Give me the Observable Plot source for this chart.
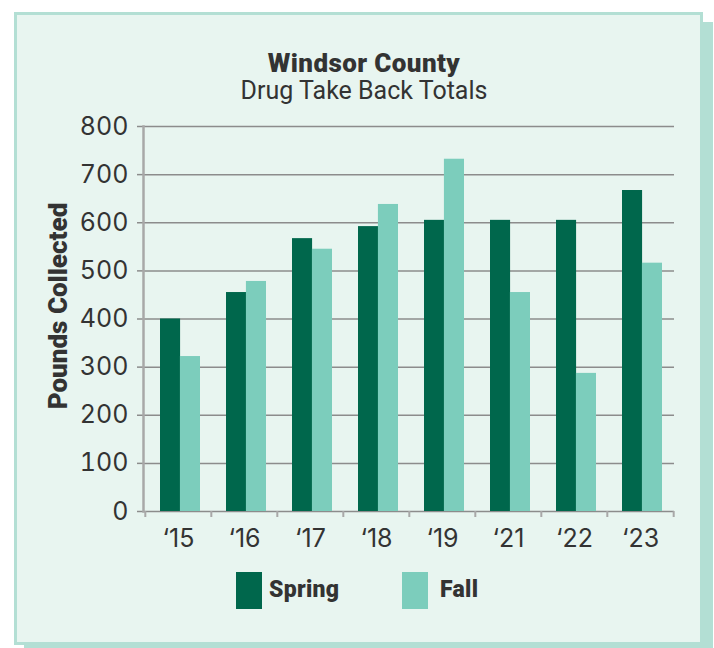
<!DOCTYPE html>
<html>
<head>
<meta charset="utf-8">
<script src="https://cdn.jsdelivr.net/npm/d3@7"></script>
<script src="https://cdn.jsdelivr.net/npm/@observablehq/plot@0.6"></script>
<style>
  html, body { margin: 0; padding: 0; background: #fff; }
  #page { position: relative; width: 714px; height: 648px; overflow: hidden; font-family: Roboto, sans-serif; color: #333; }
  #panel { position: absolute; left: 14px; top: 12px; width: 689px; height: 633px; box-sizing: border-box;
           border: 3px solid #b3dfd4; background: #e8f5f0; box-shadow: 10px 10px 0 0 #b3dfd4; }
  .t { position: absolute; white-space: nowrap; line-height: 1; }
  #title { left: 0; width: 728px; text-align: center; top: 50px; font-size: 26px; font-weight: 900; letter-spacing: 0.4px; }
  #subtitle { left: 0; width: 728px; text-align: center; top: 78px; font-size: 25px; font-weight: 400; }
  #chart { position: absolute; left: 0; top: 0; }
  .sw { position: absolute; top: 572px; width: 26px; height: 37px; }
  .lg { position: absolute; top: 578px; font-size: 23px; font-weight: 900; line-height: 1; letter-spacing: 0.3px; }
</style>
</head>
<body>
<div id="page">
  <div id="panel"></div>
  <div id="chart"></div>
  <div id="title" class="t">Windsor County</div>
  <div id="subtitle" class="t">Drug Take Back Totals</div>
  <div id="legend"></div>
</div>
<script>
const years = ["\u201815", "\u201816", "\u201817", "\u201818", "\u201819", "\u201821", "\u201822", "\u201823"];
const seasons = ["Spring", "Fall"];
const spring = [400, 455, 567, 592, 605, 605, 605, 667];
const fall = [322, 478, 545, 638, 732, 455, 287, 516];
const yTicks = [0, 100, 200, 300, 400, 500, 600, 700, 800];
const colors = ["#00674c", "#7ccdbc"];
const yLabel = "Pounds Collected";

const table = years.flatMap((year, i) => [
  {year, season: seasons[0], value: spring[i]},
  {year, season: seasons[1], value: fall[i]}
]);

const W = 714, H = 648, mL = 143, mR = 40, mT = 126, mB = 137;
const step = (W - mL - mR) / years.length;
const pInner = 0.4;
const bw = step * (1 - pInner);
const grid = "#8c8c8c";
const axisGray = "#a8a8a8";

const chart = Plot.plot({
  width: W,
  height: H,
  marginLeft: mL,
  marginRight: mR,
  marginTop: mT,
  marginBottom: mB,
  style: {background: "transparent", fontFamily: "Inter, Roboto, sans-serif", color: "#333", overflow: "visible"},
  x: {domain: years, paddingInner: pInner, paddingOuter: pInner / 2},
  y: {domain: [0, 800]},
  marks: [
    Plot.gridY(yTicks, {stroke: grid, strokeOpacity: 1, strokeWidth: 1.5}),
    Plot.axisY({ticks: yTicks, tickSize: 6, tickPadding: 9, stroke: grid, strokeWidth: 1.5, fill: "#333", fontSize: 25, label: null}),
    Plot.frame({anchor: "left", stroke: axisGray, strokeWidth: 2.5}),
    Plot.barY(table.filter(d => d.season === seasons[0]), {x: "year", y: "value", fill: colors[0], insetRight: bw / 2, dx: 2}),
    Plot.barY(table.filter(d => d.season === seasons[1]), {x: "year", y: "value", fill: colors[1], insetLeft: bw / 2, dx: 2}),
    Plot.axisX({tickSize: 6, tickFormat: () => "", dx: -step / 2, stroke: axisGray, strokeWidth: 2, label: null}),
    Plot.axisX([years[years.length - 1]], {tickSize: 6, tickFormat: () => "", dx: step / 2, stroke: axisGray, strokeWidth: 2, label: null}),
    Plot.axisX({tickSize: 0, tickPadding: 18, fontSize: 25, fill: "#333", label: null}),
    Plot.text([yLabel], {frameAnchor: "left", textAnchor: "middle", rotate: -90, dx: -85, dy: -13, fontSize: 26, fontWeight: 900, fill: "#333", fontFamily: "Roboto"})
  ]
});
document.getElementById("chart").appendChild(chart);

const legend = document.getElementById("legend");
const legendPos = [{sw: 236, tx: 269}, {sw: 402, tx: 440}];
seasons.forEach((s, i) => {
  const sw = document.createElement("div");
  sw.className = "sw";
  sw.style.left = legendPos[i].sw + "px";
  sw.style.background = colors[i];
  legend.appendChild(sw);
  const tx = document.createElement("div");
  tx.className = "lg";
  tx.style.left = legendPos[i].tx + "px";
  tx.textContent = s;
  legend.appendChild(tx);
});
</script>
</body>
</html>
